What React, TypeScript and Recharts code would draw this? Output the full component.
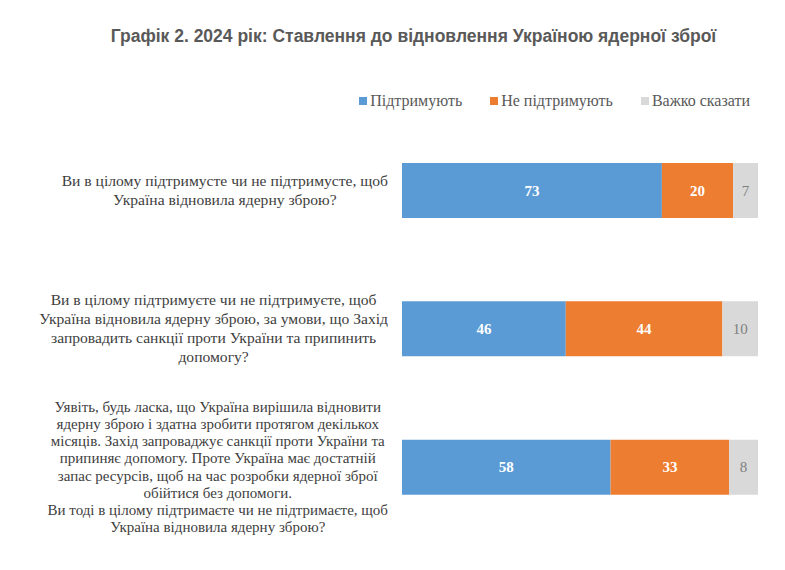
import { Bar, BarChart, LabelList, XAxis, YAxis } from "recharts";

const questions = [
  "Ви в цілому підтримусте чи не підтримусте, щоб\nУкраїна відновила ядерну зброю?",
  "Ви в цілому підтримуєте чи не підтримуєте, щоб\nУкраїна відновила ядерну зброю, за умови, що Захід\nзапровадить санкції проти України та припинить\nдопомогу?",
  "Уявіть, будь ласка, що Україна вирішила відновити\nядерну зброю і здатна зробити протягом декількох\nмісяців. Захід запроваджує санкції проти України та\nприпиняє допомогу. Проте Україна має достатній\nзапас ресурсів, щоб на час розробки ядерної зброї\nобійтися без допомоги.\nВи тоді в цілому підтримаєте чи не підтримаєте, щоб\nУкраїна відновила ядерну зброю?"
];
const support = [73, 46, 58];
const oppose = [20, 44, 33];
const hardToSay = [7, 10, 8];

const seriesNames = ["Підтримують", "Не підтримують", "Важко сказати"];
const blue = "#5b9bd5";
const orange = "#ed7d31";
const gray = "#d9d9d9";
const serif = "'Liberation Serif', 'Times New Roman', serif";

const rows = questions.map((q, i) => ({
  q,
  support: support[i],
  oppose: oppose[i],
  hard: hardToSay[i]
}));

let ctx: CanvasRenderingContext2D | null = null;
function textWidth(s: string, size: number) {
  if (!ctx) ctx = document.createElement("canvas").getContext("2d");
  if (!ctx) return s.length * size * 0.46;
  ctx.font = `${size}px 'Liberation Serif'`;
  return ctx.measureText(s).width;
}

// multi-line question, lines centred inside a block that sits against the bars
function QuestionTick(props: any) {
  const { x, y, payload, index } = props;
  const lines: string[] = String(payload.value).split("\n");
  const size = index === 2 ? 15 : 15.6;
  const lh = index === 2 ? 17.2 : 19;
  const block = Math.max(...lines.map((l) => textWidth(l, size)));
  const cx = x - 6 - block / 2;
  const top = y - ((lines.length - 1) * lh) / 2;
  return (
    <text x={cx} y={top} textAnchor="middle" fill="#404040" fontFamily={serif} fontSize={size}>
      {lines.map((l, k) => (
        <tspan key={k} x={cx} y={top + k * lh} dy="0.35em">
          {l}
        </tspan>
      ))}
    </text>
  );
}

const legendColors = [blue, orange, gray];

export default function App() {
  return (
    <div style={{ position: "absolute", left: 0, top: 0, width: 785, height: 570, background: "#fff" }}>
      <div
        style={{
          position: "absolute",
          top: 26,
          left: 0,
          width: 827,
          textAlign: "center",
          fontFamily: "'Liberation Sans', Arial, sans-serif",
          fontWeight: "bold",
          fontSize: 17.5,
          color: "#595959"
        }}
      >
        Графік 2. 2024 рік: Ставлення до відновлення Україною ядерної зброї
      </div>
      <div
        style={{
          position: "absolute",
          top: 92,
          right: 35,
          display: "flex",
          gap: 28,
          fontFamily: serif,
          fontSize: 16,
          color: "#595959"
        }}
      >
        {seriesNames.map((n, i) => (
          <span key={n} style={{ display: "flex", alignItems: "center" }}>
            <span style={{ width: 8, height: 8, background: legendColors[i], marginRight: 3 }} />
            {n}
          </span>
        ))}
      </div>
      <BarChart
        width={785}
        height={570}
        data={rows}
        layout="vertical"
        stackOffset="expand"
        margin={{ top: 121, right: 27, bottom: 34, left: 0 }}
      >
        <XAxis type="number" domain={[0, 1]} hide />
        <YAxis
          type="category"
          dataKey="q"
          width={402}
          axisLine={false}
          tickLine={false}
          tick={<QuestionTick />}
          interval={0}
        />
        <Bar dataKey="support" stackId="a" fill={blue} barSize={55} isAnimationActive={false}>
          <LabelList dataKey="support" position="center" fill="#fff" fontFamily={serif} fontWeight="bold" fontSize={15} />
        </Bar>
        <Bar dataKey="oppose" stackId="a" fill={orange} barSize={55} isAnimationActive={false}>
          <LabelList dataKey="oppose" position="center" fill="#fff" fontFamily={serif} fontWeight="bold" fontSize={15} />
        </Bar>
        <Bar dataKey="hard" stackId="a" fill={gray} barSize={55} isAnimationActive={false}>
          <LabelList dataKey="hard" position="center" fill="#7f7f7f" fontFamily={serif} fontSize={15} />
        </Bar>
      </BarChart>
    </div>
  );
}
